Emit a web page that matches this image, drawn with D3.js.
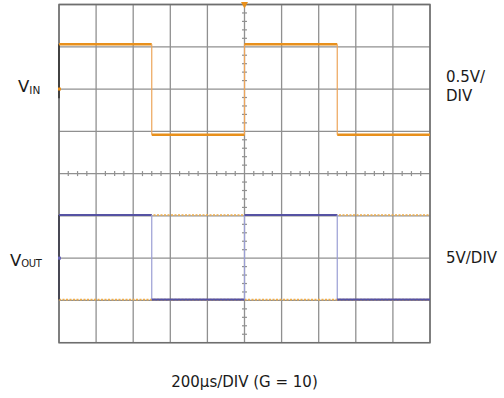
<!DOCTYPE html>
<html>
<head>
<meta charset="utf-8">
<script src="https://cdn.jsdelivr.net/npm/d3@7"></script>
<style>
  html, body { margin: 0; padding: 0; background: #fff; }
  svg { display: block; }
  text { font-family: "DejaVu Sans", sans-serif; fill: #1a1a1a; }
</style>
</head>
<body>
<svg id="scope" width="504" height="398"></svg>
<script>
// Time base: 200 µs per division, 10 divisions
const timeDivs = d3.range(0, 2001, 200);          // µs, major grid
const timeMinor = d3.range(0, 2001, 50);          // µs, minor ticks on centre line
const vertDivs = d3.range(-4, 5, 1);              // divisions from screen centre
const vertMinor = d3.range(-4, 4.001, 0.2);

// Channel 1: V_IN, 0.5 V/div, ground marker 2 div above centre
const vinScale = 0.5, vinOffsetDiv = 2;
const vinTime  = [0, 0, 500, 500, 1000, 1000, 1500, 1500, 2000];
const vinVolts = [-0.11, 0.53, 0.53, -0.54, -0.54, 0.53, 0.53, -0.54, -0.54];

// Channel 2: V_OUT, 5 V/div, ground marker 2 div below centre
const voutScale = 5, voutOffsetDiv = -2;
const voutTime  = [0, 0, 500, 500, 1000, 1000, 1500, 1500, 2000];
const voutVolts = [-4.9, 5.1, 5.1, -4.9, -4.9, 5.1, 5.1, -4.9, -4.9];

// Reference trace levels shown dotted under V_OUT
const refLevels = [5.1, -4.9];

// Trigger position
const triggerTime = 1000;

const svg = d3.select("#scope");
const plotLeft = 59, plotRight = 430, plotTop = 4.5, plotBottom = 342.7;

const x = d3.scaleLinear().domain([0, 2000]).range([plotLeft, plotRight]);
const yDiv = d3.scaleLinear().domain([-4, 4]).range([plotBottom, plotTop]);
const yVin = v => yDiv(v / vinScale + vinOffsetDiv);
const yVout = v => yDiv(v / voutScale + voutOffsetDiv);

// Grid
const grid = svg.append("g");
grid.selectAll("line.v").data(timeDivs).join("line").attr("class", "v")
  .attr("x1", d => x(d)).attr("x2", d => x(d))
  .attr("y1", plotTop).attr("y2", plotBottom)
  .attr("stroke", "#909090").attr("stroke-width", 1.3);
grid.selectAll("line.h").data(vertDivs).join("line").attr("class", "h")
  .attr("y1", d => yDiv(d)).attr("y2", d => yDiv(d))
  .attr("x1", plotLeft).attr("x2", plotRight)
  .attr("stroke", "#909090").attr("stroke-width", 1.3);

// Minor ticks on centre cross
const cx = x(1000), cy = yDiv(0);
grid.selectAll("line.mx").data(timeMinor.filter(d => d % 200 !== 0)).join("line").attr("class", "mx")
  .attr("x1", d => x(d)).attr("x2", d => x(d))
  .attr("y1", cy - 2.5).attr("y2", cy + 2.5)
  .attr("stroke", "#909090").attr("stroke-width", 1.2);
grid.selectAll("line.my").data(vertMinor.filter(d => Math.abs(d - Math.round(d)) > 1e-6)).join("line").attr("class", "my")
  .attr("y1", d => yDiv(d)).attr("y2", d => yDiv(d))
  .attr("x1", cx - 2.5).attr("x2", cx + 2.5)
  .attr("stroke", "#909090").attr("stroke-width", 1.2);

// Frame
svg.append("rect")
  .attr("x", plotLeft).attr("y", plotTop)
  .attr("width", plotRight - plotLeft).attr("height", plotBottom - plotTop)
  .attr("fill", "none").attr("stroke", "#6e6e6e").attr("stroke-width", 1.5);

// Split a step trace into horizontal and vertical segments
function segments(ts, vs, yf) {
  const segs = [];
  for (let i = 1; i < ts.length; i++) {
    segs.push({
      x1: x(ts[i - 1]), y1: yf(vs[i - 1]),
      x2: x(ts[i]), y2: yf(vs[i]),
      vertical: ts[i] === ts[i - 1],
      first: i === 1
    });
  }
  return segs;
}

// Reference dotted levels under V_OUT
svg.append("g").selectAll("line").data(refLevels).join("line")
  .attr("x1", x(0)).attr("x2", x(2000))
  .attr("y1", d => yVout(d)).attr("y2", d => yVout(d))
  .attr("stroke", "#f0ad4a").attr("stroke-width", 1.6)
  .attr("stroke-dasharray", "2,1.5");

// V_OUT trace
const voutSegs = segments(voutTime, voutVolts, yVout);
svg.append("g").selectAll("line").data(voutSegs).join("line")
  .attr("x1", d => d.x1).attr("y1", d => d.y1)
  .attr("x2", d => d.x2).attr("y2", d => d.y2)
  .attr("stroke", d => d.first ? "#3a3a4a" : d.vertical ? "#9a9ed4" : "#5552a3")
  .attr("stroke-width", d => d.first ? 1.6 : d.vertical ? 1.2 : 2);

// V_IN trace
const vinSegs = segments(vinTime, vinVolts, yVin);
svg.append("g").selectAll("line").data(vinSegs).join("line")
  .attr("x1", d => d.x1).attr("y1", d => d.y1)
  .attr("x2", d => d.x2).attr("y2", d => d.y2)
  .attr("stroke", d => d.first ? "#333" : d.vertical ? "#eda55a" : "#e8901c")
  .attr("stroke-width", d => d.first ? 1.6 : d.vertical ? 1.2 : 2.6);

// Channel ground markers on left edge
svg.append("rect").attr("x", plotLeft - 1).attr("y", yVin(0) - 1.5)
  .attr("width", 3).attr("height", 3).attr("fill", "#e8901c");
svg.append("rect").attr("x", plotLeft - 1).attr("y", yVout(0) - 1.5)
  .attr("width", 3).attr("height", 3).attr("fill", "#6a67b8");

// Trigger marker
const tx = x(triggerTime);
svg.append("path")
  .attr("d", `M${tx - 3.5},${plotTop - 2.5} L${tx + 3.5},${plotTop - 2.5} L${tx},${plotTop + 4} Z`)
  .attr("fill", "#e8901c");

// Labels
const vin = svg.append("text").attr("x", 18).attr("y", 92).attr("font-size", 16.5);
vin.append("tspan").text("V");
vin.append("tspan").attr("font-size", 10.5).attr("dy", 1.5).text("IN");

const vout = svg.append("text").attr("x", 10).attr("y", 265.5).attr("font-size", 16.5);
vout.append("tspan").text("V");
vout.append("tspan").attr("font-size", 10).attr("letter-spacing", -0.4).attr("dy", 1).text("OUT");

svg.append("text").attr("x", 446).attr("y", 82).attr("font-size", 15).text("0.5V/");
svg.append("text").attr("x", 446).attr("y", 101).attr("font-size", 15).text("DIV");
svg.append("text").attr("x", 446).attr("y", 262.5).attr("font-size", 15).text("5V/DIV");

svg.append("text").attr("x", x(1000)).attr("y", 386.5)
  .attr("text-anchor", "middle").attr("font-size", 15)
  .text("200µs/DIV (G = 10)");
</script>
</body>
</html>
